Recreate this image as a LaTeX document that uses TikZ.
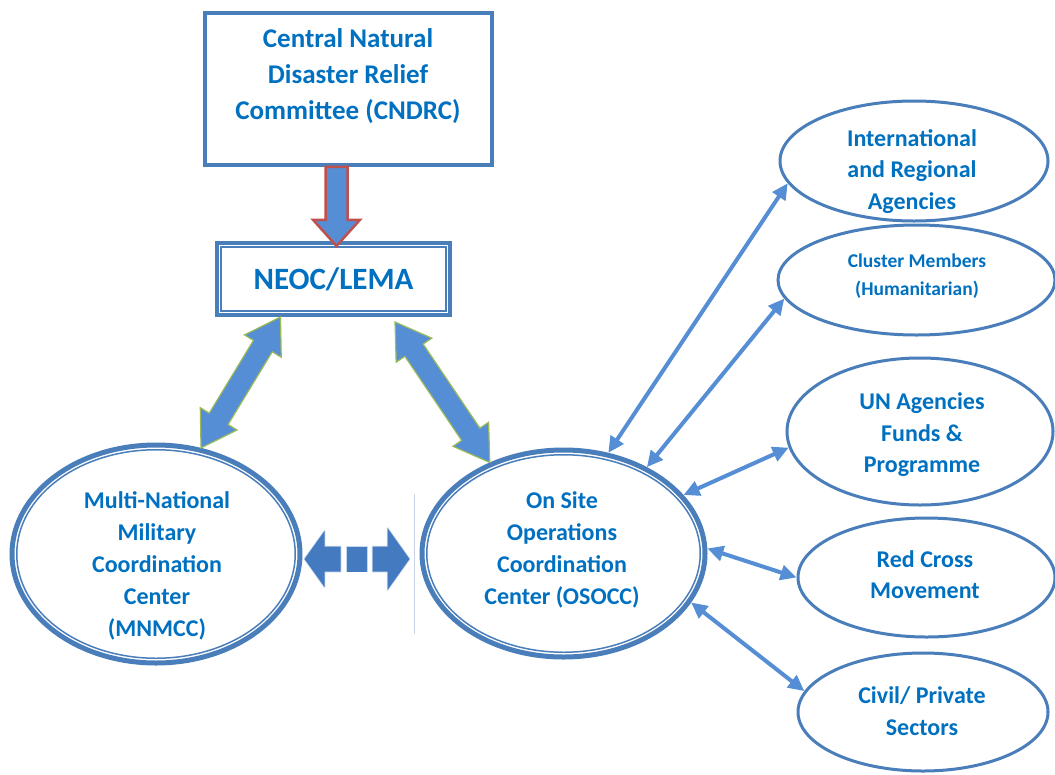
\documentclass[tikz,border=0pt]{standalone}
\usepackage{fontspec}
\setmainfont{Carlito}
\usetikzlibrary{calc,arrows.meta,shapes.geometric}
\definecolor{txtblue}{RGB}{0,112,192}
\definecolor{lineblue}{RGB}{74,126,187}
\definecolor{fillblue}{RGB}{85,142,213}
\definecolor{dashblue}{RGB}{68,122,192}
\definecolor{arrgreen}{RGB}{155,187,89}
\definecolor{arrred}{RGB}{192,80,77}
\definecolor{faintline}{RGB}{200,212,230}
\newcommand{\dblarrow}[6]{%
  \coordinate (da) at (#2);
  \coordinate (db) at (#3);
  \coordinate (ha) at ($(da)!#4!(db)$);
  \coordinate (hb) at ($(db)!#4!(da)$);
  \filldraw[#1] (da) -- ($(ha)!#5!90:(db)$) -- ($(ha)!#6!90:(db)$)
    -- ($(hb)!#6!-90:(da)$) -- ($(hb)!#5!-90:(da)$) -- (db)
    -- ($(hb)!#5!90:(da)$) -- ($(hb)!#6!90:(da)$)
    -- ($(ha)!#6!-90:(db)$) -- ($(ha)!#5!-90:(db)$) -- cycle;
}
\tikzset{
  txt/.style={text=txtblue, font=\bfseries\fontsize{24}{31.5}\selectfont, align=center, inner sep=0pt},
  boxnode/.style={draw=lineblue, line width=3.5pt, rectangle, inner sep=0pt},
  dblell/.style={draw=lineblue, line width=5pt, ellipse, inner sep=0pt},
  sideell/.style={draw=lineblue, line width=3pt, ellipse, inner sep=0pt},
  innerline/.style={draw=lineblue, line width=1.5pt},
  bigarrow/.style={fill=fillblue, draw=arrgreen, line width=1.2pt, line join=miter},
  thinarr/.style={{Triangle[length=16pt,width=15pt]}-{Triangle[length=16pt,width=15pt]}, draw=fillblue, line width=4pt},
  dashpiece/.style={fill=dashblue, draw=dashblue, draw opacity=0.3, line width=1.5pt, line join=round}
}
\begin{document}
\begin{tikzpicture}[x=1pt,y=-1pt]
\fill[white] (0,0) rectangle (1055,774);
\useasboundingbox (0,0) rectangle (1055,774);

% top committee box
\node[boxnode, minimum width=287pt, minimum height=152pt] (cndrc) at (348.5,89) {};
\node[txt, font=\bfseries\fontsize{27}{36}\selectfont] (cndrct) at (348,76) {Central Natural\\Disaster Relief\\Committee (CNDRC)};

% NEOC box (double border)
\node[boxnode, line width=4pt, minimum width=233pt, minimum height=72pt, text=txtblue, font=\bfseries\fontsize{31}{36}\selectfont] (neoc) at (333.5,279) {NEOC/LEMA};
\draw[innerline] ($(neoc.south west)+(6,-6)$) rectangle ($(neoc.north east)+(-6,6)$);

% MNMCC and OSOCC
\node[dblell, minimum width=288pt, minimum height=218pt] (mnmcc) at (156,554) {};
\draw[innerline] (mnmcc.center) ellipse [x radius=139.25pt, y radius=104.25pt];
\node[txt, font=\bfseries\fontsize{24}{32}\selectfont] (mnmcct) at (157,566) {Multi-National\\Military\\Coordination\\Center\\(MNMCC)};

\node[dblell, minimum width=283pt, minimum height=207pt] (osocc) at (563.5,553.5) {};
\draw[innerline] (osocc.center) ellipse [x radius=136.75pt, y radius=98.75pt];
\node[txt, font=\bfseries\fontsize{24}{32}\selectfont] (osocct) at (562,550) {On Site\\Operations\\Coordination\\Center (OSOCC)};

% right-hand ellipses
\node[sideell, minimum width=268pt, minimum height=120pt] (intl) at (914,161) {};
\node[txt] (intlt) at (912,171.5) {International\\and Regional\\Agencies};
\node[sideell, minimum width=277pt, minimum height=110pt] (clus) at (916.5,280) {};
\node[txt, font=\bfseries\fontsize{19.5}{28}\selectfont] (clust) at (917,276) {Cluster Members\\(Humanitarian)};
\node[sideell, minimum width=266pt, minimum height=147pt] (unag) at (920,431.5) {};
\node[txt] (unagt) at (922,435) {UN Agencies\\Funds \&\\Programme};
\node[sideell, minimum width=257pt, minimum height=119pt] (redx) at (926.5,577.5) {};
\node[txt] (redxt) at (925,574.5) {Red Cross\\Movement};
\node[sideell, minimum width=250pt, minimum height=118pt] (civil) at (923,712) {};
\node[txt] (civilt) at (922,711) {Civil/ Private\\Sectors};

% red arrow CNDRC -> NEOC
\coordinate (rt) at ($(cndrc.south)+(-12,0)$);
\coordinate (rb) at ($(neoc.north)+(3,5)$);
\filldraw[fill=fillblue, draw=arrred, line width=2.5pt, line join=miter]
  ($(rt)+(-11,0)$) -- ($(rt)+(11,0)$) -- ($(rt)+(11,53)$) -- ($(rt)+(23.5,53)$)
  -- (rb) -- ($(rt)+(-23.5,53)$) -- ($(rt)+(-11,53)$) -- cycle;

% big double arrows
\dblarrow{bigarrow}{mnmcc.67}{$(neoc.south)+(-53,0)$}{34pt}{21.5pt}{11pt}
\dblarrow{bigarrow}{$(neoc.south)+(61.5,5)$}{osocc.129}{34pt}{21.5pt}{11pt}

% faint separator line
\draw[faintline, line width=1.5pt] ($(osocc.west)+(-5,-60)$) -- ($(osocc.west)+(-5,80)$);

% dashed double arrow MNMCC <-> OSOCC
\coordinate (dl) at ($(mnmcc.east)+(2,5)$);
\coordinate (dr) at ($(osocc.west)+(-10,5.5)$);
\filldraw[dashpiece] (dl) -- +(20,-28) -- +(20,-12.5) -- +(36,-12.5) -- +(36,12.5) -- +(20,12.5) -- +(20,28) -- cycle;
\filldraw[dashpiece] ($(dl)!0.5!(dr)+(-10,-12.5)$) rectangle ($(dl)!0.5!(dr)+(10,12.5)$);
\filldraw[dashpiece] (dr) -- +(-22,-31) -- +(-22,-12.5) -- +(-37,-12.5) -- +(-37,12.5) -- +(-22,12.5) -- +(-22,31) -- cycle;

% thin double arrows from OSOCC
\draw[thinarr] (osocc.66) -- (intl.190);
\draw[thinarr] (osocc.46) -- (clus.188);
\draw[thinarr] (osocc.26) -- (unag.187);
\draw[thinarr] (osocc.2) -- (redx.180);
\draw[thinarr] (osocc.-21) -- (civil.170);
\end{tikzpicture}
\end{document}
